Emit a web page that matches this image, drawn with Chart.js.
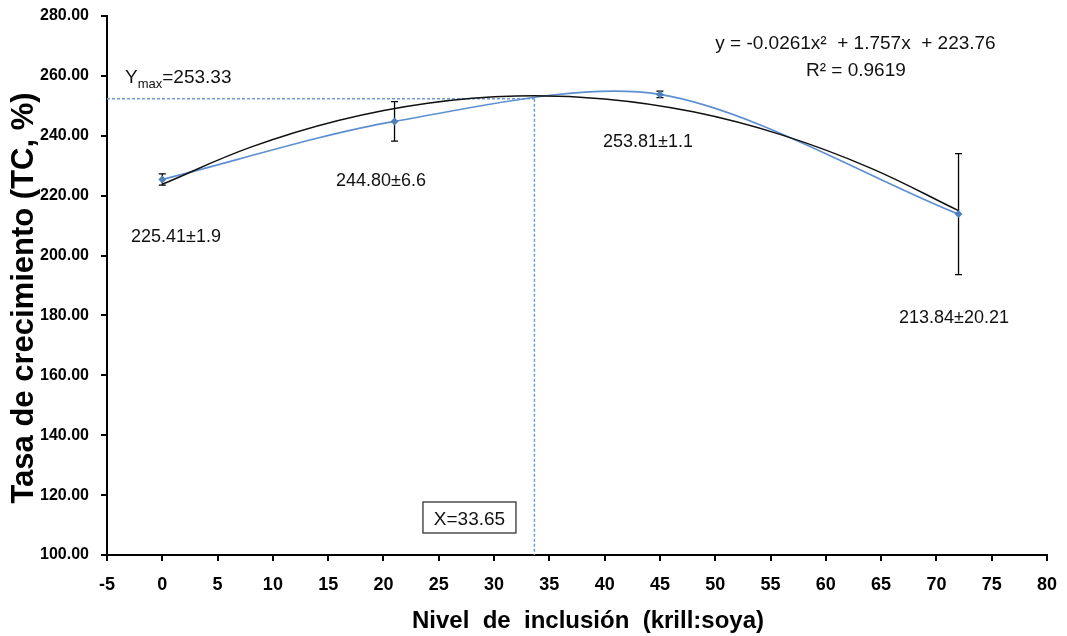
<!DOCTYPE html>
<html>
<head>
<meta charset="utf-8">
<script src="https://cdn.jsdelivr.net/npm/chart.js@4.4.1/dist/chart.umd.min.js"></script>
<style>
  html, body { margin: 0; padding: 0; background: #fff; }
  #wrap { position: relative; width: 1067px; height: 636px; }
</style>
</head>
<body>
<div id="wrap"><canvas id="c"></canvas></div>
<script>
// ---- Data ----
const inclusionLevels = [0, 21, 45, 72];
const growthRate = [225.41, 244.80, 253.81, 213.84];
const growthError = [1.9, 6.6, 1.1, 20.21];
const pointLabels = ["225.41±1.9", "244.80±6.6", "253.81±1.1", "213.84±20.21"];

// quadratic trendline
const trendX = [0, 8, 16, 24, 32, 40, 48, 56, 64, 72];
const trendY = [223.8, 236.2, 245.2, 250.9, 253.3, 252.3, 248.0, 240.3, 229.3, 215.0];

const xOptimum = 33.65;
const yOptimumLine = 252.4;

const xTicksMin = -5, xTicksMax = 80, xStep = 5;
const yTicksMin = 100, yTicksMax = 280, yStep = 20;

const equationText = "y = -0.0261x\u00B2  + 1.757x  + 223.76";
const r2Text = "R\u00B2 = 0.9619";
const yTitle = "Tasa de crecimiento (TC, %)";
const xTitle = "Nivel  de  inclusión  (krill:soya)";

// ---- Chart ----
const FONT = "'Liberation Sans', Arial, sans-serif";
const BLUE = '#5E8FD0';
const BLUE_MARK = '#4F81BD';

const mainSeries = inclusionLevels.map((x, i) => ({ x, y: growthRate[i] }));
const trendSeries = trendX.map((x, i) => ({ x, y: trendY[i] }));

// label anchors in data units (left x, baseline y)
const labelAnchors = [
  { x: -2.83, y: 204.5 },
  { x: 15.71, y: 223.2 },
  { x: 39.85, y: 236.25 },
  { x: 66.62, y: 177.5 }
];

const annotPlugin = {
  id: 'annot',
  beforeDatasetsDraw(chart) {
    const { ctx, scales: { x, y }, chartArea } = chart;
    ctx.save();
    ctx.strokeStyle = '#6F9BD8';
    ctx.lineWidth = 1.5;
    ctx.setLineDash([3, 2]);
    const xp = x.getPixelForValue(xOptimum);
    const yp = y.getPixelForValue(yOptimumLine);
    ctx.beginPath();
    ctx.moveTo(chartArea.left, yp);
    ctx.lineTo(xp, yp);
    ctx.moveTo(xp, yp);
    ctx.lineTo(xp, chartArea.bottom);
    ctx.stroke();
    ctx.setLineDash([]);
    ctx.restore();
  },
  afterDatasetsDraw(chart) {
    const { ctx, scales: { x, y } } = chart;
    ctx.save();
    // error bars
    ctx.strokeStyle = '#000';
    ctx.lineWidth = 1.3;
    inclusionLevels.forEach((xv, i) => {
      const px = x.getPixelForValue(xv);
      const top = y.getPixelForValue(growthRate[i] + growthError[i]);
      const bot = y.getPixelForValue(growthRate[i] - growthError[i]);
      ctx.beginPath();
      ctx.moveTo(px, top); ctx.lineTo(px, bot);
      ctx.moveTo(px - 3.5, top); ctx.lineTo(px + 3.5, top);
      ctx.moveTo(px - 3.5, bot); ctx.lineTo(px + 3.5, bot);
      ctx.stroke();
    });
    // markers above error bars
    ctx.fillStyle = BLUE_MARK;
    inclusionLevels.forEach((xv, i) => {
      const px = x.getPixelForValue(xv);
      const py = y.getPixelForValue(growthRate[i]);
      ctx.beginPath();
      ctx.moveTo(px, py - 4); ctx.lineTo(px + 4, py);
      ctx.lineTo(px, py + 4); ctx.lineTo(px - 4, py);
      ctx.closePath(); ctx.fill();
    });

    // point labels
    ctx.fillStyle = '#111';
    ctx.font = `18px ${FONT}`;
    ctx.textAlign = 'left';
    ctx.textBaseline = 'alphabetic';
    pointLabels.forEach((t, i) => {
      ctx.fillText(t, x.getPixelForValue(labelAnchors[i].x), y.getPixelForValue(labelAnchors[i].y));
    });

    // equation
    ctx.font = `19px ${FONT}`;
    ctx.textAlign = 'center';
    ctx.fillText(equationText, x.getPixelForValue(62.68), y.getPixelForValue(269.0));
    ctx.fillText(r2Text, x.getPixelForValue(62.72), y.getPixelForValue(260.1));

    // Ymax label with subscript
    ctx.textAlign = 'left';
    let lx = x.getPixelForValue(-3.37);
    const ly = y.getPixelForValue(257.6);
    ctx.font = `19px ${FONT}`;
    ctx.fillText('Y', lx, ly);
    lx += ctx.measureText('Y').width;
    ctx.font = `13px ${FONT}`;
    ctx.fillText('max', lx, ly + 5);
    lx += ctx.measureText('max').width;
    ctx.font = `19px ${FONT}`;
    ctx.fillText('=253.33', lx, ly);

    // X optimum boxed label
    const bx1 = x.getPixelForValue(23.57), bx2 = x.getPixelForValue(31.98);
    const by1 = y.getPixelForValue(117.7), by2 = y.getPixelForValue(107.35);
    ctx.fillStyle = '#fff';
    ctx.fillRect(bx1, by1, bx2 - bx1, by2 - by1);
    ctx.strokeStyle = '#333';
    ctx.lineWidth = 1.3;
    ctx.strokeRect(bx1, by1, bx2 - bx1, by2 - by1);
    ctx.fillStyle = '#111';
    ctx.textAlign = 'center';
    ctx.font = `19px ${FONT}`;
    ctx.fillText('X=' + xOptimum.toFixed(2), (bx1 + bx2) / 2, y.getPixelForValue(110.0));

    // axis titles
    ctx.fillStyle = '#000';
    ctx.font = `bold 24px ${FONT}`;
    ctx.textAlign = 'center';
    ctx.fillText(xTitle, 588, 628);

    ctx.save();
    ctx.translate(33, 298);
    ctx.rotate(-Math.PI / 2);
    ctx.font = `bold 31px ${FONT}`;
    ctx.fillText(yTitle, 0, 0);
    ctx.restore();

    ctx.restore();
  }
};

new Chart(document.getElementById('c'), {
  type: 'scatter',
  data: {
    datasets: [
      {
        label: 'Trend',
        data: trendSeries,
        showLine: true,
        borderColor: '#111',
        borderWidth: 1.5,
        pointRadius: 0,
        tension: 0.4,
        fill: false,
        order: 1
      },
      {
        label: 'TC',
        data: mainSeries,
        showLine: true,
        borderColor: BLUE,
        backgroundColor: BLUE_MARK,
        borderWidth: 1.7,
        pointRadius: 0,
        tension: 0.3,
        fill: false,
        order: 2
      }
    ]
  },
  options: {
    responsive: true,
    maintainAspectRatio: false,
    devicePixelRatio: 1,
    animation: false,
    layout: { padding: { top: 16, right: 20, left: 0, bottom: 0 } },
    plugins: { legend: { display: false }, tooltip: { enabled: false } },
    scales: {
      x: {
        type: 'linear',
        min: xTicksMin, max: xTicksMax,
        ticks: {
          stepSize: xStep,
          color: '#000',
          font: { family: FONT, size: 18, weight: 'bold' },
          padding: 13,
          maxRotation: 0
        },
        grid: { drawOnChartArea: false, drawTicks: true, tickLength: 6, color: '#000', lineWidth: 2 },
        border: { display: true, color: '#000', width: 2 },
        afterFit(scale) {
          scale.height = 81;
          scale.paddingLeft = 0; scale.paddingRight = 0;
          scale.paddingTop = 0; scale.paddingBottom = 0;
        }
      },
      y: {
        type: 'linear',
        min: yTicksMin, max: yTicksMax,
        ticks: {
          stepSize: yStep,
          color: '#000',
          font: { family: FONT, size: 16, weight: 'bold' },
          padding: 12,
          callback: v => Number(v).toFixed(2)
        },
        grid: { drawOnChartArea: false, drawTicks: true, tickLength: 6, color: '#000', lineWidth: 2 },
        border: { display: true, color: '#000', width: 2 },
        afterFit(scale) {
          scale.width = 107;
          scale.paddingLeft = 0; scale.paddingRight = 0;
          scale.paddingTop = 0; scale.paddingBottom = 0;
        }
      }
    }
  },
  plugins: [annotPlugin]
});
</script>
</body>
</html>
